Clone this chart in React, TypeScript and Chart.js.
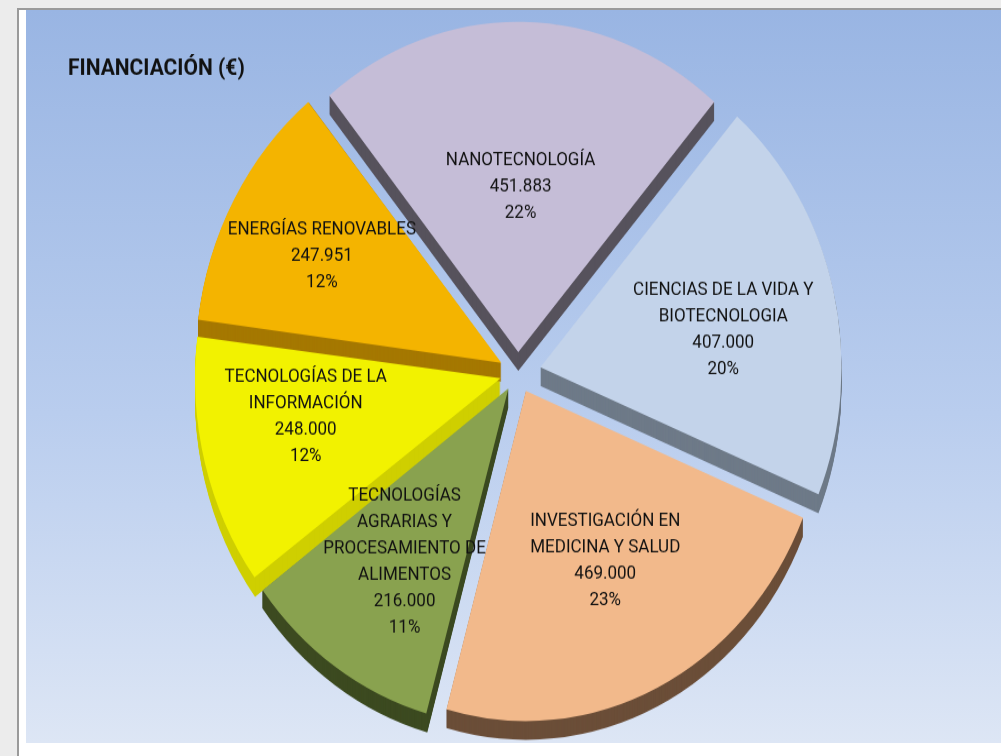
import React, { useEffect, useRef } from "react";
import { Chart, registerables } from "chart.js";

Chart.register(...registerables);

const chartTitle = "FINANCIACIÓN (€)";
const categories: string[][] = [
  ["NANOTECNOLOGÍA"],
  ["CIENCIAS DE LA VIDA Y", "BIOTECNOLOGIA"],
  ["INVESTIGACIÓN EN", "MEDICINA Y SALUD"],
  ["TECNOLOGÍAS", "AGRARIAS Y", "PROCESAMIENTO DE", "ALIMENTOS"],
  ["TECNOLOGÍAS DE LA", "INFORMACIÓN"],
  ["ENERGÍAS RENOVABLES"],
];
const values: number[] = [451883, 407000, 469000, 216000, 248000, 247951];
const topColors: string[] = ["#c5bdd7", "#c3d3ea", "#f2b98b", "#89a24f", "#f2f200", "#f4b400"];
const sideColors: string[] = ["#56525c", "#6e7a88", "#6b4e38", "#3c4a20", "#cfcf00", "#a57800"];
const explode: number[] = [76, 92, 72, 68, 72, 76];
const labelDist: number[] = [0.5, 0.62, 0.58, 0.63, 0.66, 0.68];
const labelAngleAdj: number[] = [0, 2.5, -1, -1, 4, -0.7];

const FONT = 'Roboto, "Liberation Sans", sans-serif';
const DEPTH = 17;
const LINE_H = 24;
const STRETCH = 1.1;
const W = 975;
const H = 667;

const fmt = (v: number) => String(v).replace(/\B(?=(\d{3})+(?!\d))/g, ".");

function arcGeom(arc: any) {
  const p = arc.getProps(["x", "y", "startAngle", "endAngle", "outerRadius", "circumference"], true);
  const off = (arc.options.offset || 0) / 4;
  const mid = (p.startAngle + p.endAngle) / 2;
  const fix = 1 - Math.sin(Math.min(Math.PI, p.circumference || 0));
  const r = p.outerRadius + off * fix;
  return { p, off, mid, r, cx: p.x + Math.cos(mid) * off, cy: p.y + Math.sin(mid) * off };
}

const depthPlugin = {
  id: "depth3d",
  beforeDatasetsDraw(chart: any) {
    const ctx = chart.ctx;
    const meta = chart.getDatasetMeta(0);
    meta.data.forEach((arc: any, i: number) => {
      const g = arcGeom(arc);
      ctx.save();
      ctx.fillStyle = sideColors[i];
      for (let d = DEPTH; d >= 1; d--) {
        ctx.beginPath();
        ctx.moveTo(g.cx, g.cy + d);
        ctx.arc(g.cx, g.cy + d, g.r, g.p.startAngle, g.p.endAngle);
        ctx.closePath();
        ctx.fill();
      }
      ctx.restore();
    });
  },
};

const labelPlugin = {
  id: "sliceLabels",
  afterDatasetsDraw(chart: any) {
    const ctx = chart.ctx;
    const meta = chart.getDatasetMeta(0);
    const total = values.reduce((a, b) => a + b, 0);
    meta.data.forEach((arc: any, i: number) => {
      const g = arcGeom(arc);
      const dist = g.off + labelDist[i] * g.p.outerRadius;
      const ang = g.mid + (labelAngleAdj[i] * Math.PI) / 180;
      const lx = g.p.x + Math.cos(ang) * dist;
      const ly = g.p.y + Math.sin(ang) * dist;
      const lines = [...categories[i], fmt(values[i]), Math.round((values[i] / total) * 100) + "%"];
      ctx.save();
      ctx.font = `17px ${FONT}`;
      ctx.fillStyle = "#111111";
      ctx.textAlign = "center";
      ctx.textBaseline = "middle";
      const y0 = ly - ((lines.length - 1) * LINE_H) / 2;
      lines.forEach((t, k) => ctx.fillText(t, lx, y0 + k * LINE_H));
      ctx.restore();
    });
  },
};

export default function App() {
  const ref = useRef<HTMLCanvasElement | null>(null);
  useEffect(() => {
    if (!ref.current) return;
    const chart = new Chart(ref.current, {
      type: "pie",
      data: {
        labels: categories.map((c) => c.join(" ")),
        datasets: [
          {
            data: values,
            backgroundColor: topColors,
            borderWidth: 0,
            offset: explode,
            hoverOffset: 0,
            rotation: -39,
            radius: 300,
          } as any,
        ],
      },
      options: {
        responsive: false,
        animation: false,
        events: [],
        rotation: -39,
        radius: 300,
        layout: { padding: { left: 42, right: 33, top: 0, bottom: 73 } },
        plugins: {
          legend: { display: false },
          tooltip: { enabled: false },
          title: {
            display: true,
            text: chartTitle,
            align: "start",
            color: "#111111",
            font: { family: FONT, size: 21, weight: "bold", lineHeight: 1.2 },
            padding: { top: 41, bottom: 0 },
          },
        },
      } as any,
      plugins: [depthPlugin, labelPlugin],
    });
    return () => chart.destroy();
  }, []);

  return (
    <div style={{ position: "fixed", left: 0, top: 0, width: 1001, height: 756, background: "#ececec", overflow: "hidden" }}>
      <div
        style={{
          position: "absolute",
          left: 17,
          top: 8,
          width: 1000,
          height: 760,
          background: "#ffffff",
          borderLeft: "2px solid #9a9a9a",
          borderTop: "2px solid #9a9a9a",
        }}
      />
      <div
        style={{
          position: "absolute",
          left: 26,
          top: 10,
          width: W,
          height: 733,
          background: "linear-gradient(180deg, #99b5e3 0%, #b9cdee 55%, #dde6f5 100%)",
          overflow: "hidden",
        }}
      >
        <div style={{ width: W, height: H, transform: `scaleY(${STRETCH})`, transformOrigin: "0 0" }}>
          <canvas ref={ref} width={W} height={H} style={{ display: "block", width: W, height: H }} />
        </div>
      </div>
    </div>
  );
}
